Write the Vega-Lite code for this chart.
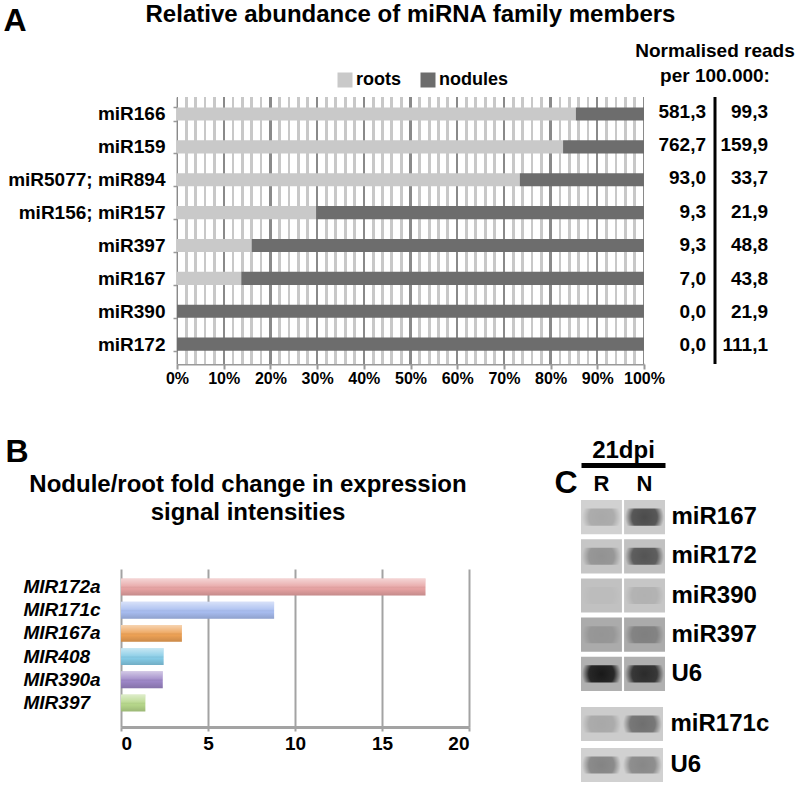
{
  "$schema": "https://vega.github.io/schema/vega-lite/v6.json",
  "background": "white",
  "padding": {"left": 3, "top": 3, "right": 0, "bottom": 0},
  "config": {
    "font": "Liberation Sans",
    "view": {"stroke": null},
    "locale": {"number": {"decimal": ",", "thousands": ".", "grouping": [3], "currency": ["", ""]}},
    "axis": {"labelColor": "black", "titleColor": "black"}
  },
  "datasets": {
    "abund": [
      {"miRNA": "miR166", "tissue": "roots", "reads": 581.3},
      {"miRNA": "miR166", "tissue": "nodules", "reads": 99.3},
      {"miRNA": "miR159", "tissue": "roots", "reads": 762.7},
      {"miRNA": "miR159", "tissue": "nodules", "reads": 159.9},
      {"miRNA": "miR5077; miR894", "tissue": "roots", "reads": 93.0},
      {"miRNA": "miR5077; miR894", "tissue": "nodules", "reads": 33.7},
      {"miRNA": "miR156; miR157", "tissue": "roots", "reads": 9.3},
      {"miRNA": "miR156; miR157", "tissue": "nodules", "reads": 21.9},
      {"miRNA": "miR397", "tissue": "roots", "reads": 9.3},
      {"miRNA": "miR397", "tissue": "nodules", "reads": 48.8},
      {"miRNA": "miR167", "tissue": "roots", "reads": 7.0},
      {"miRNA": "miR167", "tissue": "nodules", "reads": 43.8},
      {"miRNA": "miR390", "tissue": "roots", "reads": 0.0},
      {"miRNA": "miR390", "tissue": "nodules", "reads": 21.9},
      {"miRNA": "miR172", "tissue": "roots", "reads": 0.0},
      {"miRNA": "miR172", "tissue": "nodules", "reads": 111.1}
    ],
    "fold": [
      {"gene": "MIR172a", "fold": 17.5},
      {"gene": "MIR171c", "fold": 8.8},
      {"gene": "MIR167a", "fold": 3.5},
      {"gene": "MIR408", "fold": 2.45},
      {"gene": "MIR390a", "fold": 2.4},
      {"gene": "MIR397", "fold": 1.4}
    ],
    "blotTop": [
      {"probe": "miR167", "lane": "R", "bg": 0.16, "band": 0.22},
      {"probe": "miR167", "lane": "N", "bg": 0.18, "band": 0.72},
      {"probe": "miR172", "lane": "R", "bg": 0.2, "band": 0.3},
      {"probe": "miR172", "lane": "N", "bg": 0.22, "band": 0.65},
      {"probe": "miR390", "lane": "R", "bg": 0.22, "band": 0.03},
      {"probe": "miR390", "lane": "N", "bg": 0.2, "band": 0.12},
      {"probe": "miR397", "lane": "R", "bg": 0.3, "band": 0.15},
      {"probe": "miR397", "lane": "N", "bg": 0.3, "band": 0.3},
      {"probe": "U6", "lane": "R", "bg": 0.28, "band": 1.0},
      {"probe": "U6", "lane": "N", "bg": 0.28, "band": 0.88}
    ],
    "blotBot": [
      {"probe": "miR171c", "lane": "R", "bg": 0.18, "band": 0.2},
      {"probe": "miR171c", "lane": "N", "bg": 0.18, "band": 0.52},
      {"probe": "U6", "lane": "R", "bg": 0.16, "band": 0.42},
      {"probe": "U6", "lane": "N", "bg": 0.16, "band": 0.4}
    ]
  },
  "resolve": {"scale": {"color": "independent", "opacity": "independent"}, "legend": {"color": "independent"}},
  "spacing": 49,
  "bounds": "full",
  "vconcat": [
    {
      "hconcat": [
        {"width": 50, "height": 1, "data": {"values": [{}]}, "mark": {"type": "point", "opacity": 0}, "encoding": {}},
        {
          "width": 467,
          "height": 267,
          "title": {"text": "Relative abundance of miRNA family members", "fontSize": 24, "fontWeight": "bold", "anchor": "middle", "frame": "group", "dy": 27, "color": "black"},
          "layer": [
            {
              "data": {"values": [{}]},
              "mark": {"type": "rect", "fill": {"gradient": "linear", "x1": 0, "y1": 0, "x2": 1, "y2": 0, "stops": [
                {"offset": 0, "color": "#8a8a8a"}, {"offset": 0.0024, "color": "#8a8a8a"}, {"offset": 0.0024, "color": "#ffffff"},
                {"offset": 0.017, "color": "#ffffff"}, {"offset": 0.017, "color": "#c8c8c8"}, {"offset": 0.023, "color": "#c8c8c8"}, {"offset": 0.023, "color": "#ffffff"},
                {"offset": 0.037, "color": "#ffffff"}, {"offset": 0.037, "color": "#c8c8c8"}, {"offset": 0.043, "color": "#c8c8c8"}, {"offset": 0.043, "color": "#ffffff"},
                {"offset": 0.057, "color": "#ffffff"}, {"offset": 0.057, "color": "#c8c8c8"}, {"offset": 0.063, "color": "#c8c8c8"}, {"offset": 0.063, "color": "#ffffff"},
                {"offset": 0.077, "color": "#ffffff"}, {"offset": 0.077, "color": "#c8c8c8"}, {"offset": 0.083, "color": "#c8c8c8"}, {"offset": 0.083, "color": "#ffffff"},
                {"offset": 0.0976, "color": "#ffffff"}, {"offset": 0.0976, "color": "#8a8a8a"}, {"offset": 0.1024, "color": "#8a8a8a"}, {"offset": 0.1024, "color": "#ffffff"},
                {"offset": 0.117, "color": "#ffffff"}, {"offset": 0.117, "color": "#c8c8c8"}, {"offset": 0.123, "color": "#c8c8c8"}, {"offset": 0.123, "color": "#ffffff"},
                {"offset": 0.137, "color": "#ffffff"}, {"offset": 0.137, "color": "#c8c8c8"}, {"offset": 0.143, "color": "#c8c8c8"}, {"offset": 0.143, "color": "#ffffff"},
                {"offset": 0.157, "color": "#ffffff"}, {"offset": 0.157, "color": "#c8c8c8"}, {"offset": 0.163, "color": "#c8c8c8"}, {"offset": 0.163, "color": "#ffffff"},
                {"offset": 0.177, "color": "#ffffff"}, {"offset": 0.177, "color": "#c8c8c8"}, {"offset": 0.183, "color": "#c8c8c8"}, {"offset": 0.183, "color": "#ffffff"},
                {"offset": 0.1976, "color": "#ffffff"}, {"offset": 0.1976, "color": "#8a8a8a"}, {"offset": 0.2024, "color": "#8a8a8a"}, {"offset": 0.2024, "color": "#ffffff"},
                {"offset": 0.217, "color": "#ffffff"}, {"offset": 0.217, "color": "#c8c8c8"}, {"offset": 0.223, "color": "#c8c8c8"}, {"offset": 0.223, "color": "#ffffff"},
                {"offset": 0.237, "color": "#ffffff"}, {"offset": 0.237, "color": "#c8c8c8"}, {"offset": 0.243, "color": "#c8c8c8"}, {"offset": 0.243, "color": "#ffffff"},
                {"offset": 0.257, "color": "#ffffff"}, {"offset": 0.257, "color": "#c8c8c8"}, {"offset": 0.263, "color": "#c8c8c8"}, {"offset": 0.263, "color": "#ffffff"},
                {"offset": 0.277, "color": "#ffffff"}, {"offset": 0.277, "color": "#c8c8c8"}, {"offset": 0.283, "color": "#c8c8c8"}, {"offset": 0.283, "color": "#ffffff"},
                {"offset": 0.2976, "color": "#ffffff"}, {"offset": 0.2976, "color": "#8a8a8a"}, {"offset": 0.3024, "color": "#8a8a8a"}, {"offset": 0.3024, "color": "#ffffff"},
                {"offset": 0.317, "color": "#ffffff"}, {"offset": 0.317, "color": "#c8c8c8"}, {"offset": 0.323, "color": "#c8c8c8"}, {"offset": 0.323, "color": "#ffffff"},
                {"offset": 0.337, "color": "#ffffff"}, {"offset": 0.337, "color": "#c8c8c8"}, {"offset": 0.343, "color": "#c8c8c8"}, {"offset": 0.343, "color": "#ffffff"},
                {"offset": 0.357, "color": "#ffffff"}, {"offset": 0.357, "color": "#c8c8c8"}, {"offset": 0.363, "color": "#c8c8c8"}, {"offset": 0.363, "color": "#ffffff"},
                {"offset": 0.377, "color": "#ffffff"}, {"offset": 0.377, "color": "#c8c8c8"}, {"offset": 0.383, "color": "#c8c8c8"}, {"offset": 0.383, "color": "#ffffff"},
                {"offset": 0.3976, "color": "#ffffff"}, {"offset": 0.3976, "color": "#8a8a8a"}, {"offset": 0.4024, "color": "#8a8a8a"}, {"offset": 0.4024, "color": "#ffffff"},
                {"offset": 0.417, "color": "#ffffff"}, {"offset": 0.417, "color": "#c8c8c8"}, {"offset": 0.423, "color": "#c8c8c8"}, {"offset": 0.423, "color": "#ffffff"},
                {"offset": 0.437, "color": "#ffffff"}, {"offset": 0.437, "color": "#c8c8c8"}, {"offset": 0.443, "color": "#c8c8c8"}, {"offset": 0.443, "color": "#ffffff"},
                {"offset": 0.457, "color": "#ffffff"}, {"offset": 0.457, "color": "#c8c8c8"}, {"offset": 0.463, "color": "#c8c8c8"}, {"offset": 0.463, "color": "#ffffff"},
                {"offset": 0.477, "color": "#ffffff"}, {"offset": 0.477, "color": "#c8c8c8"}, {"offset": 0.483, "color": "#c8c8c8"}, {"offset": 0.483, "color": "#ffffff"},
                {"offset": 0.4976, "color": "#ffffff"}, {"offset": 0.4976, "color": "#8a8a8a"}, {"offset": 0.5024, "color": "#8a8a8a"}, {"offset": 0.5024, "color": "#ffffff"},
                {"offset": 0.517, "color": "#ffffff"}, {"offset": 0.517, "color": "#c8c8c8"}, {"offset": 0.523, "color": "#c8c8c8"}, {"offset": 0.523, "color": "#ffffff"},
                {"offset": 0.537, "color": "#ffffff"}, {"offset": 0.537, "color": "#c8c8c8"}, {"offset": 0.543, "color": "#c8c8c8"}, {"offset": 0.543, "color": "#ffffff"},
                {"offset": 0.557, "color": "#ffffff"}, {"offset": 0.557, "color": "#c8c8c8"}, {"offset": 0.563, "color": "#c8c8c8"}, {"offset": 0.563, "color": "#ffffff"},
                {"offset": 0.577, "color": "#ffffff"}, {"offset": 0.577, "color": "#c8c8c8"}, {"offset": 0.583, "color": "#c8c8c8"}, {"offset": 0.583, "color": "#ffffff"},
                {"offset": 0.5976, "color": "#ffffff"}, {"offset": 0.5976, "color": "#8a8a8a"}, {"offset": 0.6024, "color": "#8a8a8a"}, {"offset": 0.6024, "color": "#ffffff"},
                {"offset": 0.617, "color": "#ffffff"}, {"offset": 0.617, "color": "#c8c8c8"}, {"offset": 0.623, "color": "#c8c8c8"}, {"offset": 0.623, "color": "#ffffff"},
                {"offset": 0.637, "color": "#ffffff"}, {"offset": 0.637, "color": "#c8c8c8"}, {"offset": 0.643, "color": "#c8c8c8"}, {"offset": 0.643, "color": "#ffffff"},
                {"offset": 0.657, "color": "#ffffff"}, {"offset": 0.657, "color": "#c8c8c8"}, {"offset": 0.663, "color": "#c8c8c8"}, {"offset": 0.663, "color": "#ffffff"},
                {"offset": 0.677, "color": "#ffffff"}, {"offset": 0.677, "color": "#c8c8c8"}, {"offset": 0.683, "color": "#c8c8c8"}, {"offset": 0.683, "color": "#ffffff"},
                {"offset": 0.6976, "color": "#ffffff"}, {"offset": 0.6976, "color": "#8a8a8a"}, {"offset": 0.7024, "color": "#8a8a8a"}, {"offset": 0.7024, "color": "#ffffff"},
                {"offset": 0.717, "color": "#ffffff"}, {"offset": 0.717, "color": "#c8c8c8"}, {"offset": 0.723, "color": "#c8c8c8"}, {"offset": 0.723, "color": "#ffffff"},
                {"offset": 0.737, "color": "#ffffff"}, {"offset": 0.737, "color": "#c8c8c8"}, {"offset": 0.743, "color": "#c8c8c8"}, {"offset": 0.743, "color": "#ffffff"},
                {"offset": 0.757, "color": "#ffffff"}, {"offset": 0.757, "color": "#c8c8c8"}, {"offset": 0.763, "color": "#c8c8c8"}, {"offset": 0.763, "color": "#ffffff"},
                {"offset": 0.777, "color": "#ffffff"}, {"offset": 0.777, "color": "#c8c8c8"}, {"offset": 0.783, "color": "#c8c8c8"}, {"offset": 0.783, "color": "#ffffff"},
                {"offset": 0.7976, "color": "#ffffff"}, {"offset": 0.7976, "color": "#8a8a8a"}, {"offset": 0.8024, "color": "#8a8a8a"}, {"offset": 0.8024, "color": "#ffffff"},
                {"offset": 0.817, "color": "#ffffff"}, {"offset": 0.817, "color": "#c8c8c8"}, {"offset": 0.823, "color": "#c8c8c8"}, {"offset": 0.823, "color": "#ffffff"},
                {"offset": 0.837, "color": "#ffffff"}, {"offset": 0.837, "color": "#c8c8c8"}, {"offset": 0.843, "color": "#c8c8c8"}, {"offset": 0.843, "color": "#ffffff"},
                {"offset": 0.857, "color": "#ffffff"}, {"offset": 0.857, "color": "#c8c8c8"}, {"offset": 0.863, "color": "#c8c8c8"}, {"offset": 0.863, "color": "#ffffff"},
                {"offset": 0.877, "color": "#ffffff"}, {"offset": 0.877, "color": "#c8c8c8"}, {"offset": 0.883, "color": "#c8c8c8"}, {"offset": 0.883, "color": "#ffffff"},
                {"offset": 0.8976, "color": "#ffffff"}, {"offset": 0.8976, "color": "#8a8a8a"}, {"offset": 0.9024, "color": "#8a8a8a"}, {"offset": 0.9024, "color": "#ffffff"},
                {"offset": 0.917, "color": "#ffffff"}, {"offset": 0.917, "color": "#c8c8c8"}, {"offset": 0.923, "color": "#c8c8c8"}, {"offset": 0.923, "color": "#ffffff"},
                {"offset": 0.937, "color": "#ffffff"}, {"offset": 0.937, "color": "#c8c8c8"}, {"offset": 0.943, "color": "#c8c8c8"}, {"offset": 0.943, "color": "#ffffff"},
                {"offset": 0.957, "color": "#ffffff"}, {"offset": 0.957, "color": "#c8c8c8"}, {"offset": 0.963, "color": "#c8c8c8"}, {"offset": 0.963, "color": "#ffffff"},
                {"offset": 0.977, "color": "#ffffff"}, {"offset": 0.977, "color": "#c8c8c8"}, {"offset": 0.983, "color": "#c8c8c8"}, {"offset": 0.983, "color": "#ffffff"},
                {"offset": 0.9976, "color": "#ffffff"}, {"offset": 0.9976, "color": "#8a8a8a"}, {"offset": 1, "color": "#8a8a8a"}
              ]}},
              "encoding": {
                "x": {"datum": 0, "type": "quantitative"},
                "x2": {"datum": 1}
              }
            },
            {
              "data": {"name": "abund"},
              "mark": {"type": "bar"},
              "encoding": {
                "y": {
                  "field": "miRNA", "type": "nominal",
                  "sort": ["miR166", "miR159", "miR5077; miR894", "miR156; miR157", "miR397", "miR167", "miR390", "miR172"],
                  "scale": {"paddingInner": 0.6, "paddingOuter": 0.36, "align": 0.44},
                  "axis": {"title": "A", "titleAngle": 0, "titleX": -174, "titleY": -67, "titleAlign": "left", "titleBaseline": "alphabetic", "titleFontSize": 32, "titleFontWeight": "bold",
                    "labelFontSize": 19, "labelFontWeight": "bold", "labelPadding": 8, "tickBand": "extent", "tickSize": 4, "tickColor": "#999999", "tickWidth": 1.5, "domainColor": "#999999", "domainWidth": 2}
                },
                "x": {
                  "field": "reads", "type": "quantitative", "stack": "normalize",
                  "scale": {"domain": [0, 1], "nice": false},
                  "axis": {
                    "orient": "bottom", "title": null,
                    "values": [0,0.1,0.2,0.3,0.4,0.5,0.6,0.7,0.8,0.9,1],
                    "grid": false,
                    "labelExpr": "round(datum.value*100) + '%'",
                    "labelOverlap": false, "labelFlush": false,
                    "labelFontSize": 16, "labelFontWeight": "bold", "labelDx": 4, "labelPadding": 1,
                    "tickColor": "#999999", "tickSize": 5, "tickWidth": 2,
                    "domainColor": "#999999", "domainWidth": 2
                  }
                },
                "color": {
                  "field": "tissue", "type": "nominal",
                  "scale": {"domain": ["roots", "nodules"], "range": ["#c9c9c9", "#6d6d6d"]},
                  "legend": {"orient": "none", "legendX": 159, "legendY": -26, "direction": "horizontal", "title": null, "symbolType": "square", "symbolSize": 225, "symbolStrokeWidth": 0, "labelFontSize": 18, "labelFontWeight": "bold", "labelColor": "black", "columnPadding": 18, "labelOffset": 2}
                },
                "order": {"field": "tissue", "sort": "descending"}
              }
            }
          ]
        },
        {
          "width": 148,
          "height": 267,
          "title": {"text": ["Normalised reads", "per 100.000:"], "fontSize": 19, "fontWeight": "bold", "lineHeight": 25, "anchor": "middle", "frame": "group", "dx": -9, "offset": 10, "color": "black"},
          "layer": [
            {
              "data": {"name": "abund"},
              "mark": {"type": "text", "align": "right", "baseline": "middle", "fontSize": 19, "fontWeight": "bold", "color": "black"},
              "encoding": {
                "y": {"field": "miRNA", "type": "nominal", "sort": ["miR166", "miR159", "miR5077; miR894", "miR156; miR157", "miR397", "miR167", "miR390", "miR172"], "scale": {"paddingInner": 0.6, "paddingOuter": 0.36, "align": 0.44}, "axis": null},
                "x": {"field": "tissue", "type": "nominal", "scale": {"type": "point", "domain": ["roots", "nodules"], "padding": 0.694, "align": 0.651}, "axis": null},
                "text": {"field": "reads", "type": "quantitative", "format": ".1f"}
              }
            },
            {
              "data": {"values": [{}]},
              "mark": {"type": "rule", "color": "black", "strokeWidth": 3, "xOffset": 9},
              "encoding": {"x": {"datum": "roots", "type": "nominal"}}
            }
          ]
        }
      ],
      "spacing": 6,
      "bounds": "flush",
      "resolve": {"scale": {"color": "independent"}, "legend": {"color": "independent"}}
    },
    {
      "hconcat": [
        {
          "vconcat": [
            {"width": 10, "height": 1, "data": {"values": [{}]}, "mark": {"type": "point", "opacity": 0}, "encoding": {}},
            {
              "width": 348,
              "height": 158,
              "data": {"name": "fold"},
              "title": {"text": ["Nodule/root fold change in expression", "signal intensities"], "fontSize": 24, "fontWeight": "bold", "lineHeight": 28, "anchor": "middle", "frame": "group", "dx": -47, "dy": 94, "color": "black"},
              "encoding": {
                "y": {
                  "field": "gene", "type": "nominal",
                  "sort": ["MIR172a", "MIR171c", "MIR167a", "MIR408", "MIR390a", "MIR397"],
                  "scale": {"paddingInner": 0.27, "paddingOuter": 0.54, "align": 0.38},
                  "axis": {"title": "B", "titleAngle": 0, "titleX": -116, "titleY": -108, "titleAlign": "left", "titleBaseline": "alphabetic", "titleFontSize": 32, "titleFontWeight": "bold",
                    "labelAlign": "left", "labelPadding": 98, "ticks": false, "domain": false, "labelFontSize": 19, "labelFontWeight": "bold", "labelFontStyle": "italic"}
                },
                "x": {
                  "field": "fold", "type": "quantitative",
                  "scale": {"domain": [0, 20], "nice": false},
                  "axis": {"title": null, "values": [0, 5, 10, 15, 20], "grid": true, "gridColor": "#a3a3a3", "gridWidth": 2, "domainColor": "#a3a3a3", "domainWidth": 3, "tickColor": "#a3a3a3", "tickSize": 4, "tickWidth": 2, "labelFontSize": 19, "labelFontWeight": "bold", "labelPadding": 3}
                }
              },
              "layer": [
                {
                  "mark": {"type": "bar"},
                  "encoding": {
                    "color": {"field": "gene", "type": "nominal", "scale": {"domain": ["MIR172a", "MIR171c", "MIR167a", "MIR408", "MIR390a", "MIR397"], "range": ["#e7a3a3", "#a8bdf0", "#eda155", "#85cbe6", "#9c86c6", "#b6d78a"]}, "legend": null}
                  }
                },
                {
                  "mark": {"type": "bar", "fill": {"gradient": "linear", "x1": 0, "y1": 0, "x2": 0, "y2": 1, "stops": [
                    {"offset": 0, "color": "rgba(255,255,255,0.55)"},
                    {"offset": 0.45, "color": "rgba(255,255,255,0.12)"},
                    {"offset": 0.6, "color": "rgba(0,0,0,0)"},
                    {"offset": 1, "color": "rgba(0,0,0,0.15)"}
                  ]}}
                }
              ]
            }
          ],
          "spacing": 68,
          "bounds": "flush"
        },
        {
          "vconcat": [
            {
              "width": 84,
              "height": 191,
              "data": {"name": "blotTop"},
              "encoding": {
                "x": {"field": "lane", "type": "nominal", "sort": ["R", "N"], "scale": {"paddingInner": 0.05, "paddingOuter": 0},
                  "axis": {"orient": "top", "title": "21dpi", "titleFontSize": 24, "titleFontWeight": "bold", "titleY": -8, "titleBaseline": "alphabetic", "offset": 35, "domainColor": "black", "domainWidth": 5, "ticks": false, "labelAngle": 0, "labelFontSize": 22, "labelFontWeight": "bold", "labelBaseline": "top", "labelPadding": -8}},
                "y": {"field": "probe", "type": "nominal", "sort": ["miR167", "miR172", "miR390", "miR397", "U6"], "scale": {"paddingInner": 0.127, "paddingOuter": 0},
                  "axis": {"orient": "right", "title": "C", "titleAngle": 0, "titleX": -111, "titleY": -8, "titleAlign": "left", "titleBaseline": "alphabetic", "titleFontSize": 32, "titleFontWeight": "bold", "labelFontSize": 24, "labelFontWeight": "bold", "labelPadding": 6, "ticks": false, "domain": false}}
              },
              "layer": [
                {"mark": {"type": "rect"}, "encoding": {"color": {"field": "bg", "type": "quantitative", "scale": {"domain": [0, 1], "range": ["#ffffff", "#000000"]}, "legend": null}}},
                {"mark": {"type": "bar", "width": {"band": 0.95}, "height": {"band": 0.5}, "fill": {"gradient": "radial", "x1": 0.5, "y1": 0.5, "r1": 0, "x2": 0.5, "y2": 0.5, "r2": 0.5, "stops": [
                  {"offset": 0, "color": "rgba(25,25,25,1)"},
                  {"offset": 0.65, "color": "rgba(25,25,25,0.9)"},
                  {"offset": 1, "color": "rgba(25,25,25,0)"}
                ]}}, "encoding": {"opacity": {"field": "band", "type": "quantitative", "scale": {"domain": [0, 1], "range": [0, 1]}, "legend": null}}}
              ]
            },
            {
              "width": 82,
              "height": 75,
              "data": {"name": "blotBot"},
              "encoding": {
                "x": {"field": "lane", "type": "nominal", "sort": ["R", "N"], "scale": {"paddingInner": 0, "paddingOuter": 0}, "axis": null},
                "y": {"field": "probe", "type": "nominal", "sort": ["miR171c", "U6"], "scale": {"paddingInner": 0.17, "paddingOuter": 0},
                  "axis": {"orient": "right", "title": null, "labelFontSize": 24, "labelFontWeight": "bold", "labelPadding": 7, "ticks": false, "domain": false}}
              },
              "layer": [
                {"mark": {"type": "rect"}, "encoding": {"color": {"field": "bg", "type": "quantitative", "scale": {"domain": [0, 1], "range": ["#ffffff", "#000000"]}, "legend": null}}},
                {"mark": {"type": "bar", "width": {"band": 0.95}, "height": {"band": 0.5}, "fill": {"gradient": "radial", "x1": 0.5, "y1": 0.5, "r1": 0, "x2": 0.5, "y2": 0.5, "r2": 0.5, "stops": [
                  {"offset": 0, "color": "rgba(25,25,25,1)"},
                  {"offset": 0.65, "color": "rgba(25,25,25,0.9)"},
                  {"offset": 1, "color": "rgba(25,25,25,0)"}
                ]}}, "encoding": {"opacity": {"field": "band", "type": "quantitative", "scale": {"domain": [0, 1], "range": [0, 1]}, "legend": null}}}
              ]
            }
          ],
          "spacing": 16,
          "bounds": "flush",
          "resolve": {"scale": {"color": "independent", "opacity": "independent"}, "legend": {"color": "independent"}}
        }
      ],
      "spacing": 84,
      "bounds": "full",
      "resolve": {"scale": {"color": "independent", "opacity": "independent"}, "legend": {"color": "independent"}}
    }
  ]
}
